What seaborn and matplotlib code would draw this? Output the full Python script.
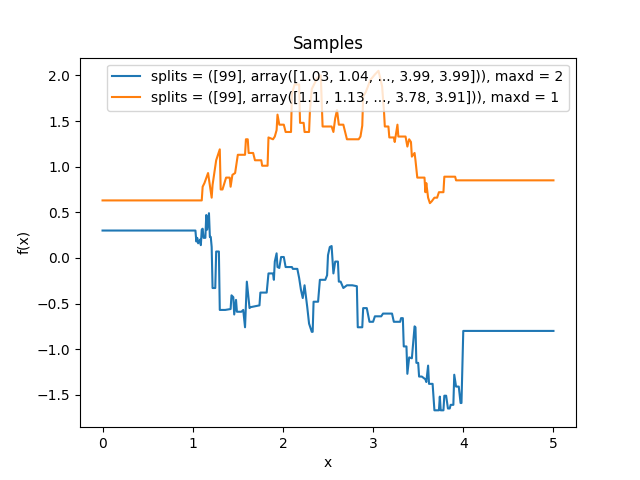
import matplotlib
matplotlib.use("Agg")
import matplotlib.pyplot as plt
import seaborn as sns

# blue sample (maxd = 2)
blue_x = [0.0, 1.03, 1.04, 1.05, 1.06, 1.08, 1.09, 1.10, 1.11, 1.12, 1.14, 1.15, 1.16, 1.18, 1.19, 1.20,
          1.21, 1.22, 1.25, 1.26, 1.29, 1.30, 1.36, 1.42, 1.43, 1.45, 1.46, 1.48, 1.49, 1.54, 1.56, 1.58,
          1.60, 1.63, 1.64, 1.74, 1.75, 1.82, 1.84, 1.89, 1.90, 1.91, 1.93, 1.94, 1.96, 1.98, 2.01, 2.03,
          2.10, 2.11, 2.16, 2.18, 2.20, 2.22, 2.24, 2.26, 2.27, 2.29, 2.32, 2.33, 2.34, 2.39, 2.41, 2.47,
          2.49, 2.50, 2.52, 2.54, 2.56, 2.58, 2.61, 2.62, 2.64, 2.67, 2.71, 2.77, 2.82, 2.83, 2.88, 2.89,
          2.93, 2.96, 3.00, 3.02, 3.09, 3.11, 3.21, 3.23, 3.30, 3.31, 3.33, 3.34, 3.37, 3.38, 3.40, 3.43,
          3.46, 3.47, 3.48, 3.50, 3.51, 3.54, 3.58, 3.59, 3.61, 3.62, 3.66, 3.68, 3.73, 3.74, 3.75, 3.78,
          3.79, 3.81, 3.83, 3.85, 3.86, 3.89, 3.90, 3.92, 3.95, 3.97, 3.98, 4.00, 5.0]
blue_y = [0.30, 0.30, 0.18, 0.22, 0.16, 0.20, 0.14, 0.31, 0.32, 0.22, 0.22, 0.47, 0.31, 0.49, 0.23, 0.23,
          0.12, -0.33, -0.33, 0.07, 0.07, -0.57, -0.57, -0.56, -0.41, -0.43, -0.62, -0.46, -0.59, -0.59, -0.57, -0.76,
          -0.26, -0.55, -0.54, -0.52, -0.38, -0.38, -0.17, -0.17, -0.24, -0.04, 0.05, -0.10, -0.11, 0.01, 0.01, -0.10,
          -0.10, -0.12, -0.12, -0.22, -0.35, -0.44, -0.30, -0.46, -0.54, -0.72, -0.81, -0.81, -0.48, -0.48, -0.24, -0.24,
          -0.19, 0.03, 0.12, 0.13, -0.17, -0.04, -0.04, -0.26, -0.26, -0.33, -0.30, -0.30, -0.31, -0.76, -0.76, -0.55,
          -0.55, -0.70, -0.70, -0.64, -0.64, -0.61, -0.61, -0.70, -0.70, -0.66, -0.66, -0.97, -0.97, -1.27, -1.09, -1.10,
          -0.75, -0.76, -1.15, -1.15, -1.30, -1.30, -1.33, -1.36, -1.18, -1.38, -1.38, -1.67, -1.67, -1.52, -1.67, -1.67,
          -1.51, -1.51, -1.65, -1.65, -1.61, -1.61, -1.28, -1.41, -1.41, -1.59, -1.59, -0.80, -0.80]

# orange sample (maxd = 1)
orange_x = [0.0, 1.10, 1.11, 1.13, 1.17, 1.21, 1.22, 1.26, 1.30, 1.31, 1.33, 1.37, 1.41, 1.42, 1.44, 1.47,
            1.50, 1.58, 1.59, 1.61, 1.62, 1.67, 1.69, 1.76, 1.77, 1.83, 1.84, 1.89, 1.91, 1.93, 1.94, 1.96,
            2.01, 2.03, 2.09, 2.10, 2.13, 2.18, 2.19, 2.23, 2.24, 2.29, 2.30, 2.32, 2.38, 2.42, 2.44, 2.54,
            2.56, 2.58, 2.60, 2.62, 2.67, 2.71, 2.84, 2.86, 2.88, 2.89, 2.92, 2.97, 3.02, 3.06, 3.10, 3.12,
            3.13, 3.17, 3.18, 3.23, 3.24, 3.27, 3.28, 3.36, 3.38, 3.40, 3.42, 3.43, 3.46, 3.47, 3.49, 3.57,
            3.58, 3.59, 3.61, 3.63, 3.65, 3.68, 3.71, 3.73, 3.78, 3.79, 3.91, 3.92, 5.0]
orange_y = [0.63, 0.63, 0.78, 0.82, 0.93, 0.66, 0.80, 1.07, 1.19, 0.75, 0.75, 0.88, 0.88, 0.78, 0.91, 0.93,
            1.13, 1.13, 1.30, 1.30, 1.15, 1.15, 1.07, 1.07, 1.01, 1.01, 1.32, 1.30, 1.33, 1.40, 1.57, 1.46,
            1.46, 1.38, 1.38, 1.80, 1.90, 1.90, 1.48, 1.48, 1.38, 1.38, 1.62, 1.85, 1.97, 2.00, 1.44, 1.44,
            1.38, 1.53, 1.62, 1.46, 1.46, 1.30, 1.30, 1.33, 1.45, 1.77, 1.82, 1.95, 2.01, 2.05, 1.88, 1.62,
            1.44, 1.44, 1.32, 1.32, 1.27, 1.46, 1.33, 1.33, 1.22, 1.30, 1.27, 1.11, 1.15, 1.07, 0.88, 0.88,
            0.72, 0.82, 0.66, 0.60, 0.62, 0.66, 0.66, 0.72, 0.72, 0.89, 0.89, 0.85, 0.85]

labels = ["splits = ([99], array([1.03, 1.04, ..., 3.99, 3.99])), maxd = 2",
          "splits = ([99], array([1.1 , 1.13, ..., 3.78, 3.91])), maxd = 1"]

fig, ax = plt.subplots(figsize=(6.4, 4.8), dpi=100)

sns.lineplot(x=blue_x, y=blue_y, ax=ax, color="tab:blue", label=labels[0],
             estimator=None, sort=False)
sns.lineplot(x=orange_x, y=orange_y, ax=ax, color="tab:orange", label=labels[1],
             estimator=None, sort=False)

ax.set_title("Samples")
ax.set_xlabel("x")
ax.set_ylabel("f(x)")
ax.set_xlim(-0.25, 5.25)
ax.set_ylim(-1.855, 2.195)
ax.legend(loc="upper right")

fig.savefig("out.png", dpi=100)
